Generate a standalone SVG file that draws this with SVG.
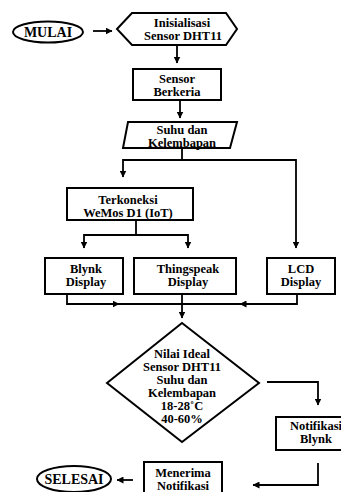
<svg xmlns="http://www.w3.org/2000/svg" width="341" height="492" viewBox="0 0 341 492">
<defs>
<style>
.s{fill:#fff;stroke:#000;stroke-width:2}
.c{fill:none;stroke:#000;stroke-width:1.8}
text{font-family:"Liberation Serif","Times New Roman",serif;font-weight:bold;font-size:12.5px;text-anchor:middle;fill:#000}
.t{font-size:14px}
</style>
<marker id="a" markerUnits="userSpaceOnUse" markerWidth="7" markerHeight="7" refX="6.5" refY="3.5" orient="auto">
<path d="M0,0 L7,3.5 L0,7 z" fill="#000"/>
</marker>
</defs>
<rect width="341" height="492" fill="#fff"/>
<g id="connectors">
<path class="c" d="M93,31 H112" marker-end="url(#a)"/>
<path class="c" d="M177,45 V63" marker-end="url(#a)"/>
<path class="c" d="M180,100 V118" marker-end="url(#a)"/>
<path class="c" d="M182,148 V160 H123 V177" marker-end="url(#a)"/>
<path class="c" d="M182,160 H296 V248" marker-end="url(#a)"/>
<path class="c" d="M136,220 V235 H84 V248" marker-end="url(#a)"/>
<path class="c" d="M136,235 H188 V248" marker-end="url(#a)"/>
<path class="c" d="M67,294 V304 H119" marker-end="url(#a)"/>
<path class="c" d="M118,304 H182"/>
<path class="c" d="M297,294 V304 H240" marker-end="url(#a)"/>
<path class="c" d="M241,304 H182"/>
<path class="c" d="M182,294 V318" marker-end="url(#a)"/>
<path class="c" d="M267,382 H318 V405" marker-end="url(#a)"/>
<path class="c" d="M318,463 V485 H253" marker-end="url(#a)"/>
<path class="c" d="M133,480 H117" marker-end="url(#a)"/>
</g>
<g id="mulai">
<ellipse class="s" cx="48" cy="32" rx="35" ry="10.5"/>
<text class="t" x="48" y="36.5">MULAI</text>
</g>
<g id="inisialisasi">
<polygon class="s" points="117,29 132,13 226,13 237,29 226,45 132,45"/>
<text x="182" y="27">Inisialisasi</text>
<text x="183" y="40">Sensor DHT11</text>
</g>
<g id="sensor-berkeria">
<rect class="s" x="133" y="69" width="88" height="31"/>
<text x="177" y="82.5">Sensor</text>
<text x="177" y="95.5">Berkeria</text>
</g>
<g id="suhu-kelembapan">
<polygon class="s" points="128,122 237,122 230,148 123,148"/>
<text x="182" y="133.5">Suhu dan</text>
<text x="182" y="146.5">Kelembapan</text>
</g>
<g id="terkoneksi">
<rect class="s" x="67" y="188" width="126" height="32"/>
<text x="128" y="203.5">Terkoneksi</text>
<text x="128" y="216.5">WeMos D1 (IoT)</text>
</g>
<g id="blynk-display">
<rect class="s" x="45" y="258" width="78" height="36"/>
<text x="86" y="273">Blynk</text>
<text x="86" y="286">Display</text>
</g>
<g id="thingspeak-display">
<rect class="s" x="134" y="258" width="102" height="36"/>
<text x="188" y="273">Thingspeak</text>
<text x="188" y="286">Display</text>
</g>
<g id="lcd-display">
<rect class="s" x="267" y="258" width="68" height="36"/>
<text x="301" y="273">LCD</text>
<text x="301" y="286">Display</text>
</g>
<g id="nilai-ideal">
<polygon class="s" points="182,323 259,383 182,442 107,383"/>
<text x="182" y="358">Nilai Ideal</text>
<text x="182" y="371">Sensor DHT11</text>
<text x="182" y="384">Suhu dan</text>
<text x="182" y="397">Kelembapan</text>
<text x="182" y="410">18-28˚C</text>
<text x="182" y="423">40-60%</text>
</g>
<g id="notifikasi-blynk">
<rect class="s" x="276" y="417" width="82" height="33"/>
<text x="316" y="430">Notifikasi</text>
<text x="316" y="443">Blynk</text>
</g>
<g id="menerima-notifikasi">
<rect class="s" x="144" y="462" width="78" height="36"/>
<text x="183" y="477">Menerima</text>
<text x="183" y="490">Notifikasi</text>
</g>
<g id="selesai">
<ellipse class="s" cx="74" cy="479" rx="37" ry="13"/>
<text class="t" x="74" y="484">SELESAI</text>
</g>
</svg>
